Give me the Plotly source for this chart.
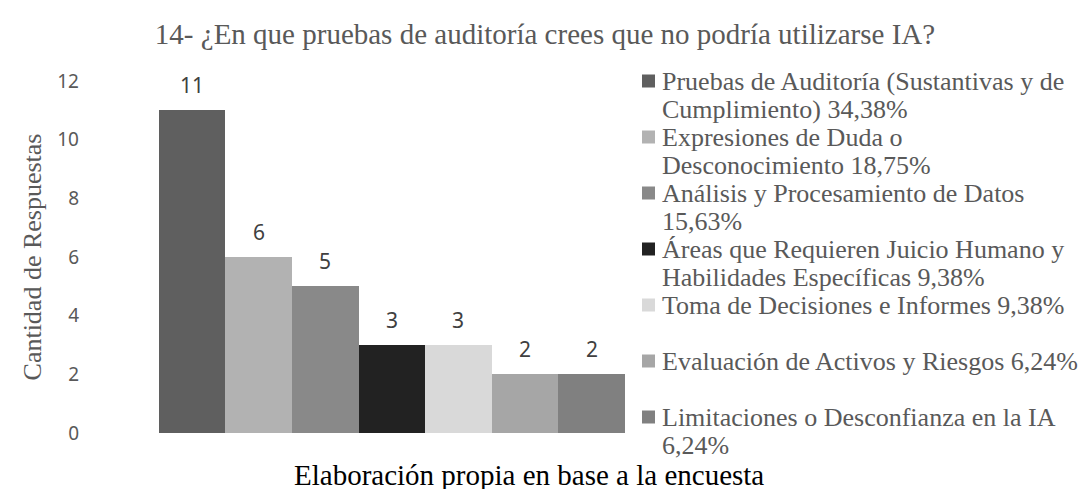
import plotly.graph_objects as go

# Survey question 14 - answers grouped by theme
categories = [
    "Pruebas de Auditoría (Sustantivas y de Cumplimiento)",
    "Expresiones de Duda o Desconocimiento",
    "Análisis y Procesamiento de Datos",
    "Áreas que Requieren Juicio Humano y Habilidades Específicas",
    "Toma de Decisiones e Informes",
    "Evaluación de Activos y Riesgos",
    "Limitaciones o Desconfianza en la IA",
]
counts = [11, 6, 5, 3, 3, 2, 2]
percents = ["34,38%", "18,75%", "15,63%", "9,38%", "9,38%", "6,24%", "6,24%"]
# legend text as wrapped in the original (one list per entry, one item per line)
legend_lines = [
    ["Pruebas de Auditoría (Sustantivas y de", "Cumplimiento) 34,38%"],
    ["Expresiones de Duda o", "Desconocimiento 18,75%"],
    ["Análisis y Procesamiento de Datos", "15,63%"],
    ["Áreas que Requieren Juicio Humano y", "Habilidades Específicas 9,38%"],
    ["Toma de Decisiones e Informes 9,38%"],
    ["Evaluación de Activos y Riesgos 6,24%"],
    ["Limitaciones o Desconfianza en la IA", "6,24%"],
]
colors = ["#5f5f5f", "#b2b2b2", "#898989", "#222222", "#d9d9d9", "#a6a6a6", "#808080"]
y_ticks = [0, 2, 4, 6, 8, 10, 12]

SERIF = "Liberation Serif, Times New Roman, serif"
SANS = "Noto Sans, Open Sans, sans-serif"
GREY = "#595959"

W, H = 1086, 489
L, R, T, B = 72, 469, 73, 64
plot_w = W - L - R
plot_h = H - T - B


def px_to_paper(px, py):
    return (px - L) / plot_w, (H - B - py) / plot_h


fig = go.Figure()
for cat, n, col in zip(categories, counts, colors):
    fig.add_trace(go.Bar(
        x=[cat],
        y=[n],
        name=cat,
        marker=dict(color=col, line=dict(width=0)),
        width=1,
        hoverinfo="y",
    ))
    fig.add_annotation(
        x=cat, y=n, text=str(n), showarrow=False,
        yanchor="middle", yshift=25,
        font=dict(family=SANS, size=21, color="#404040"),
    )

# legend drawn by hand: Excel-style tight line spacing
entry_step, line_step = 56.0, 28
for i, (lines, col) in enumerate(zip(legend_lines, colors)):
    cy = 73 + entry_step * i
    x0, y0 = px_to_paper(634, cy + 6.5)
    x1, y1 = px_to_paper(647, cy - 6.5)
    fig.add_shape(type="rect", xref="paper", yref="paper",
                  x0=x0, x1=x1, y0=y0, y1=y1,
                  fillcolor=col, line=dict(width=0))
    for j, line in enumerate(lines):
        tx, ty = px_to_paper(652, cy + line_step * j)
        fig.add_annotation(
            text=line, xref="paper", yref="paper", x=tx, y=ty,
            xanchor="left", yanchor="middle", showarrow=False,
            font=dict(family=SERIF, size=26, color=GREY),
        )

sx, sy = px_to_paper(521, 467)
fig.add_annotation(
    text="Elaboración propia en base a la encuesta",
    xref="paper", yref="paper", x=sx, y=sy,
    xanchor="center", yanchor="middle", showarrow=False,
    font=dict(family=SERIF, size=29, color="#000000"),
)

fig.update_layout(
    width=W,
    height=H,
    margin=dict(l=L, r=R, t=T, b=B),
    paper_bgcolor="white",
    plot_bgcolor="white",
    barmode="overlay",
    bargap=0,
    showlegend=False,
    title=dict(
        text="14- ¿En que pruebas de auditoría crees que no podría utilizarse IA?",
        x=537 / W, xanchor="center", y=1 - 26 / H, yanchor="middle",
        font=dict(family=SERIF, size=29, color=GREY),
    ),
)
fig.update_xaxes(
    type="category", range=[-1.68, 6.5],
    showticklabels=False, showgrid=False, zeroline=False, showline=False,
)
fig.update_yaxes(
    range=[0, 12], tickvals=y_ticks,
    showgrid=False, zeroline=False, showline=False,
    tickfont=dict(family=SANS, size=19, color=GREY),
    title=dict(text="Cantidad de Respuestas", standoff=8,
               font=dict(family=SERIF, size=26, color=GREY)),
)

fig.write_html("out.html")
